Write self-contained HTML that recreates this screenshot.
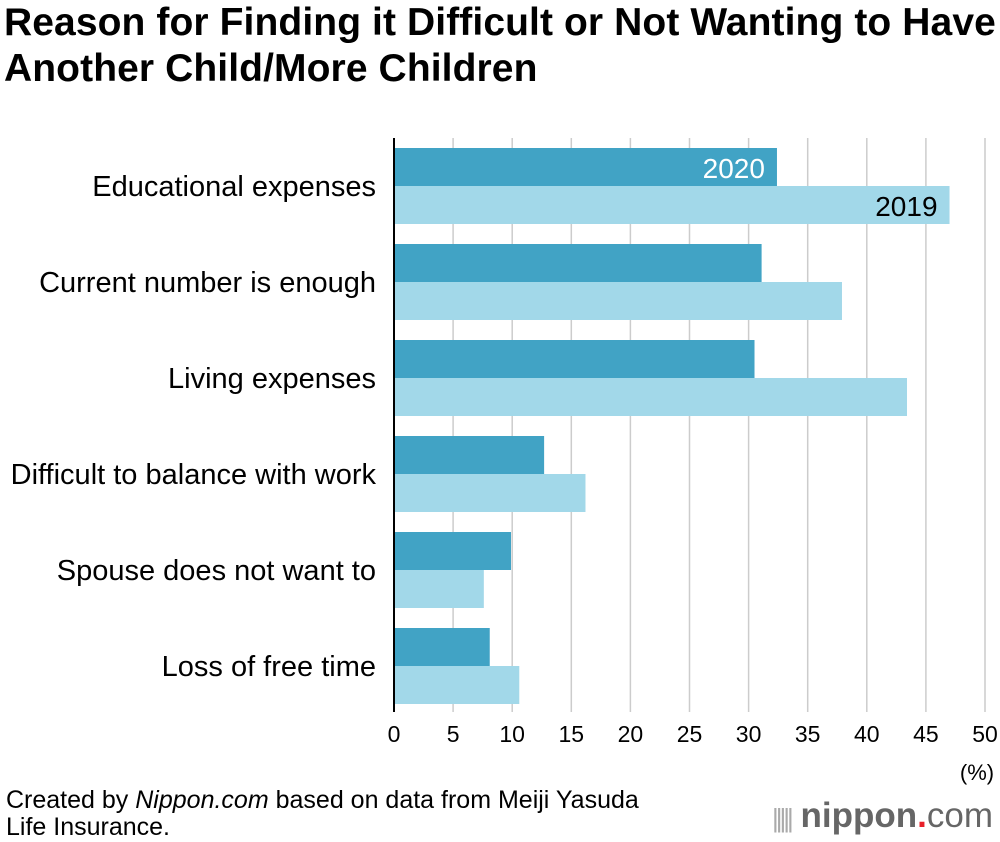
<!DOCTYPE html>
<html><head><meta charset="utf-8"><style>
body{margin:0;background:#fff;font-family:"Liberation Sans",sans-serif;}
#wrap{position:relative;width:1000px;height:842px;overflow:hidden;}
h1{position:absolute;left:4px;top:0px;margin:0;font-size:39px;line-height:46px;font-weight:bold;color:#000;letter-spacing:0.1px;white-space:nowrap}
.foot{position:absolute;left:6px;top:787px;font-size:25px;line-height:27px;color:#000;white-space:nowrap}
</style></head><body><div id="wrap">
<h1>Reason for Finding it Difficult or Not Wanting to Have<br>Another Child/More Children</h1>
<svg id="c" width="1000" height="842" style="position:absolute;left:0;top:0"></svg>
<div class="foot">Created by <i>Nippon.com</i> based on data from Meiji Yasuda<br>Life Insurance.</div>
<div style="position:absolute;left:772px;top:796px;font-size:35px;color:#666;font-weight:bold;white-space:nowrap"><span style="font-weight:normal;color:#aaa;font-size:26px;letter-spacing:-3px">|||||</span> nippon<span style="color:#e8202a">.</span><span style="font-weight:normal">com</span></div>
</div>
<script>
const categories=["Educational expenses","Current number is enough","Living expenses","Difficult to balance with work","Spouse does not want to","Loss of free time"];
const values2020=[32.4,31.1,30.5,12.7,9.9,8.1];
const values2019=[47.0,37.9,43.4,16.2,7.6,10.6];
const ticks=[0,5,10,15,20,25,30,35,40,45,50];
const ns="http://www.w3.org/2000/svg",svg=document.getElementById('c');
const x0=394,x1=985,plotTop=138,pitch=96;
const xs=v=>x0+(x1-x0)*v/50;
function mk(t,a,txt){const e=document.createElementNS(ns,t);for(const k in a)e.setAttribute(k,a[k]);if(txt!=null)e.textContent=txt;svg.appendChild(e);return e;}
ticks.forEach(t=>{if(t>0){const g=mk('line',{x1:xs(t),x2:xs(t),y1:plotTop,y2:712,stroke:'#ccc','stroke-width':1.5});

}
const l=mk('text',{x:xs(t),y:742,'text-anchor':'middle','font-size':23,fill:'#000'},t);

});
const u=mk('text',{x:977,y:780,'text-anchor':'middle','font-size':22},'(%)');


categories.forEach((c,i)=>{const y=plotTop+10+i*pitch;
const b1=mk('rect',{x:x0,y:y,width:xs(values2020[i])-x0,height:38,fill:'#41a3c5'});


const b2=mk('rect',{x:x0,y:y+38,width:xs(values2019[i])-x0,height:38,fill:'#a2d8e9'});


const l=mk('text',{x:376,y:y+48,'text-anchor':'end','font-size':29,fill:'#000'},c);


if(i==0){const a=mk('text',{x:xs(values2020[i])-12,y:y+30,'text-anchor':'end','font-size':28,fill:'#fff'},'2020');


const b=mk('text',{x:xs(values2019[i])-12,y:y+68,'text-anchor':'end','font-size':28,fill:'#000'},'2019');

}
});
const ax=mk('line',{x1:x0,x2:x0,y1:plotTop,y2:712,stroke:'#000','stroke-width':2});


</script></body></html>
